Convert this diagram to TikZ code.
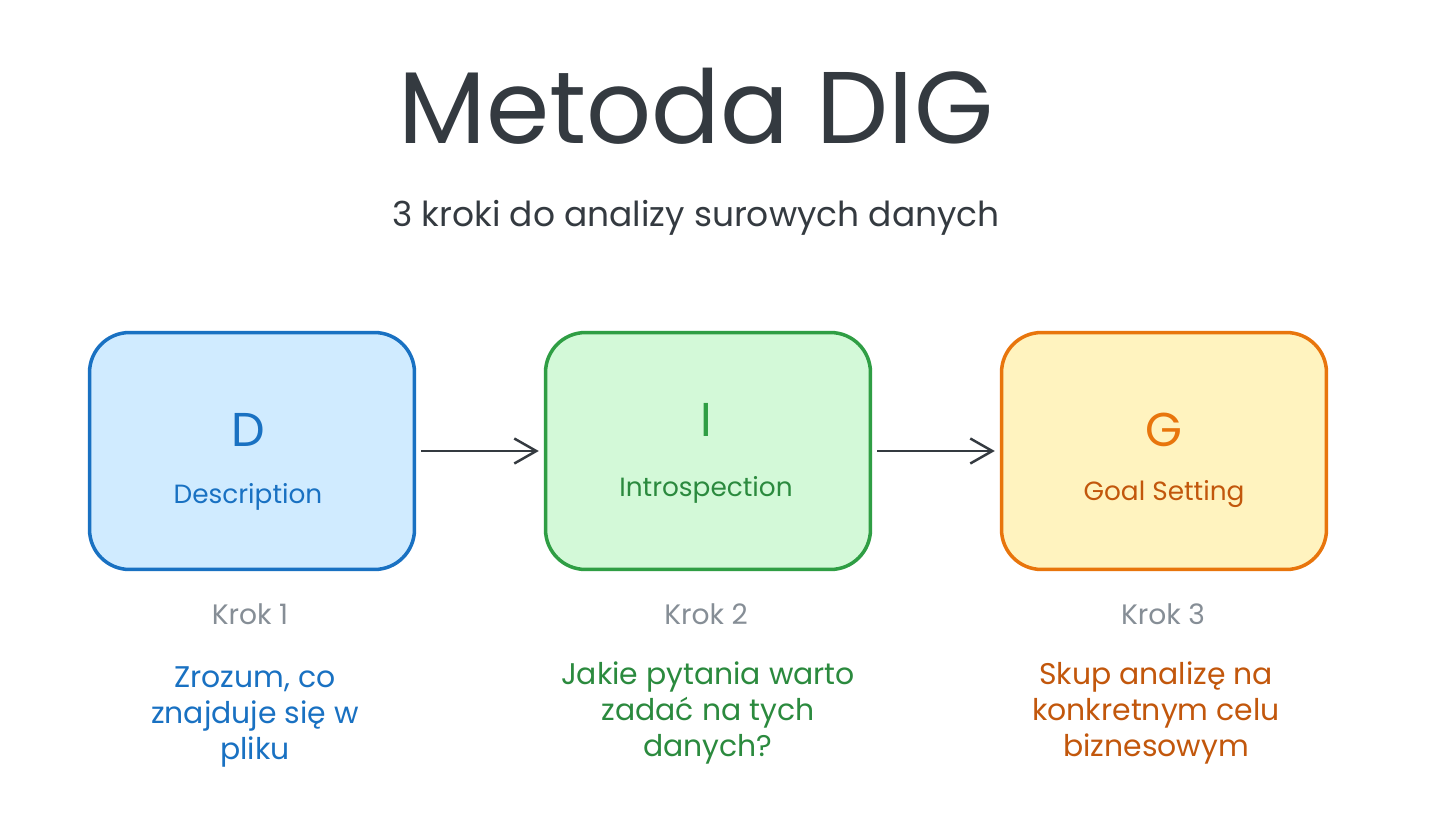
\documentclass[tikz,border=0pt]{standalone}
\usepackage{fontspec}
\setmainfont{Poppins}
\definecolor{digblue}{HTML}{1971C2}
\definecolor{digbluefill}{HTML}{D0EBFF}
\definecolor{diggreen}{HTML}{2F9E44}
\definecolor{diggreentxt}{HTML}{2B8A3E}
\definecolor{diggreenfill}{HTML}{D3F9D8}
\definecolor{digorange}{HTML}{E8750C}
\definecolor{digorangetxt}{HTML}{C2570C}
\definecolor{digorangefill}{HTML}{FFF3BF}
\definecolor{diggray}{HTML}{868E96}
\definecolor{digdark}{HTML}{343A40}
\usetikzlibrary{arrows.meta,positioning}

\begin{document}
\begin{tikzpicture}[
  x=0.02cm,y=-0.02cm,
  stepbox/.style={rounded corners=0.8cm,line width=2pt,minimum width=6.5cm,
    minimum height=4.74cm},
  bigletter/.style={font=\fontsize{27}{30}\selectfont},
  boxlabel/.style={font=\fontsize{15}{18}\selectfont},
  krok/.style={font=\fontsize{16}{19}\selectfont,diggray},
  desc/.style={font=\fontsize{17}{20.5}\selectfont,align=center},
  arr/.style={-{Straight Barb[length=4.4mm,width=5mm,line width=1.4pt]},line width=1.4pt,
    digdark,shorten <=0.1cm,shorten >=0.1cm}
]
  \useasboundingbox[fill=white] (0,0) rectangle (1456,832);
  \node[font=\fontsize{58}{64}\selectfont,digdark] (title) at (696,106) {Metoda DIG};
  \node[font=\fontsize{19.6}{22}\selectfont,digdark] (subtitle) at (696,218) {3 kroki do analizy surowych danych};
  % Boxes
  \node[stepbox,draw=digblue,fill=digbluefill] (dbox) at (252,451) {};
  \node[stepbox,draw=diggreen,fill=diggreenfill] (ibox) at (708,451) {};
  \node[stepbox,draw=digorange,fill=digorangefill] (gbox) at (1164,451) {};
  \node[bigletter,digblue] (dlet) at (248,430) {D};
  \node[boxlabel,digblue] (dname) at (248,497) {Description};
  \node[bigletter,diggreen] (ilet) at (706,420) {I};
  \node[boxlabel,diggreentxt] (iname) at (706,490) {Introspection};
  \node[bigletter,digorange] (glet) at (1164,430) {G};
  \node[boxlabel,digorangetxt] (gname) at (1164,494) {Goal Setting};
  % Arrows
  \draw[arr] (dbox) -- (ibox);
  \draw[arr] (ibox) -- (gbox);
  % Steps
  \node[krok] (k1) at (250,614) {Krok 1};
  \node[krok] (k2) at (706,614) {Krok 2};
  \node[krok] (k3) at (1163,614) {Krok 3};
  \node[desc,digblue] (d1) at (255,717) {Zrozum, co\\znajduje się w\\pliku};
  \node[desc,diggreentxt] (d2) at (708,713) {Jakie pytania warto\\zadać na tych\\danych?};
  \node[desc,digorangetxt] (d3) at (1156,713) {Skup analizę na\\konkretnym celu\\biznesowym};
\end{tikzpicture}
\end{document}
